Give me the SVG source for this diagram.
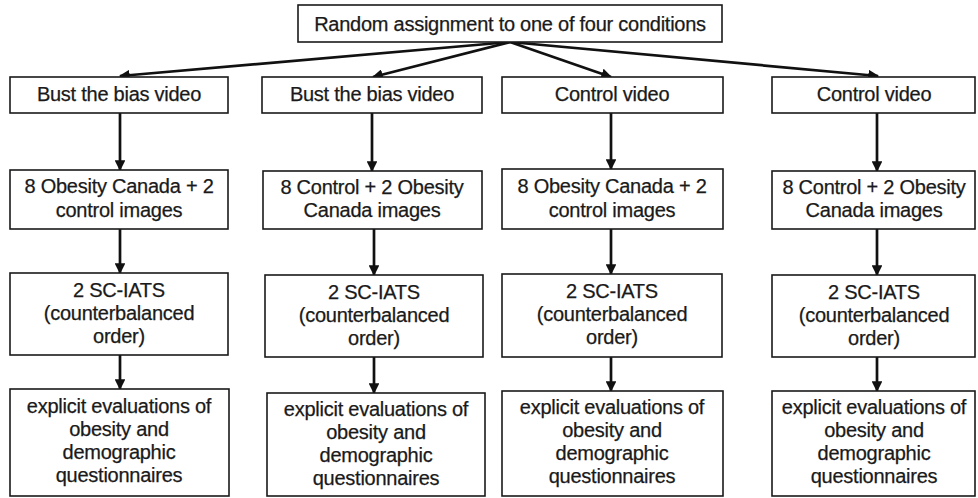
<svg xmlns="http://www.w3.org/2000/svg" width="978" height="498" viewBox="0 0 978 498">
<style>
.box{fill:#fff;stroke:#1a1a1a;stroke-width:1.6}
.t{font-family:"Liberation Sans",Arial,sans-serif;font-size:20px;fill:#1a1a1a;stroke:#1a1a1a;stroke-width:0.25;text-anchor:middle;letter-spacing:-0.25px}
.c{stroke:#111;stroke-width:2.7;fill:none;marker-end:url(#ah)}
</style>
<defs>
<marker id="ah" viewBox="0 0 10 10" refX="9" refY="5" markerWidth="4" markerHeight="4" orient="auto" markerUnits="strokeWidth">
<path d="M0,0 L10,5 L0,10 z" fill="#111"/>
</marker>
</defs>
<rect width="978" height="498" fill="#fff"/>
<g id="connectors">
<line class="c" x1="510" y1="42" x2="120" y2="76"/>
<line class="c" x1="510" y1="42" x2="373" y2="77"/>
<line class="c" x1="510" y1="42" x2="611" y2="77"/>
<line class="c" x1="510" y1="42" x2="878" y2="76"/>
<line class="c" x1="120" y1="113" x2="120" y2="170"/>
<line class="c" x1="372" y1="113" x2="372" y2="171"/>
<line class="c" x1="611" y1="113" x2="611" y2="169"/>
<line class="c" x1="877" y1="113" x2="877" y2="171"/>
<line class="c" x1="120" y1="229" x2="120" y2="273"/>
<line class="c" x1="374" y1="229" x2="374" y2="275"/>
<line class="c" x1="611" y1="229" x2="611" y2="274"/>
<line class="c" x1="877" y1="229" x2="877" y2="275"/>
<line class="c" x1="120" y1="355" x2="120" y2="389"/>
<line class="c" x1="374" y1="357" x2="374" y2="393"/>
<line class="c" x1="611" y1="357" x2="611" y2="391"/>
<line class="c" x1="877" y1="357" x2="877" y2="391"/>
</g>
<g id="top">
<rect class="box" x="298" y="5" width="424" height="37"/>
<text class="t" x="510" y="31">Random assignment to one of four conditions</text>
</g>
<g id="v1"><rect class="box" x="10" y="77" width="218" height="36"/><text class="t" x="119" y="101">Bust the bias video</text></g>
<g id="v2"><rect class="box" x="262" y="77" width="220" height="36"/><text class="t" x="372" y="101">Bust the bias video</text></g>
<g id="v3"><rect class="box" x="502" y="77" width="221" height="36"/><text class="t" x="612" y="101">Control video</text></g>
<g id="v4"><rect class="box" x="772" y="77" width="203" height="36"/><text class="t" x="874" y="101">Control video</text></g>
<g id="i1"><rect class="box" x="10" y="170" width="218" height="59"/><text class="t" x="119" y="193">8 Obesity Canada + 2</text><text class="t" x="119" y="217">control images</text></g>
<g id="i2"><rect class="box" x="263" y="171" width="219" height="58"/><text class="t" x="372" y="194">8 Control + 2 Obesity</text><text class="t" x="372" y="217">Canada images</text></g>
<g id="i3"><rect class="box" x="502" y="169" width="221" height="60"/><text class="t" x="612" y="193">8 Obesity Canada + 2</text><text class="t" x="612" y="217">control images</text></g>
<g id="i4"><rect class="box" x="772" y="171" width="203" height="58"/><text class="t" x="874" y="194">8 Control + 2 Obesity</text><text class="t" x="874" y="217">Canada images</text></g>
<g id="s1"><rect class="box" x="10" y="273" width="218" height="82"/><text class="t" x="119" y="297">2 SC-IATS</text><text class="t" x="119" y="320">(counterbalanced</text><text class="t" x="119" y="343">order)</text></g>
<g id="s2"><rect class="box" x="265" y="275" width="218" height="82"/><text class="t" x="374" y="299">2 SC-IATS</text><text class="t" x="374" y="322">(counterbalanced</text><text class="t" x="374" y="345">order)</text></g>
<g id="s3"><rect class="box" x="502" y="274" width="220" height="83"/><text class="t" x="612" y="298">2 SC-IATS</text><text class="t" x="612" y="321">(counterbalanced</text><text class="t" x="612" y="344">order)</text></g>
<g id="s4"><rect class="box" x="772" y="275" width="203" height="82"/><text class="t" x="874" y="299">2 SC-IATS</text><text class="t" x="874" y="322">(counterbalanced</text><text class="t" x="874" y="345">order)</text></g>
<g id="e1"><rect class="box" x="10" y="389" width="219" height="107"/><text class="t" x="119" y="413">explicit evaluations of</text><text class="t" x="119" y="436">obesity and</text><text class="t" x="119" y="459">demographic</text><text class="t" x="119" y="482">questionnaires</text></g>
<g id="e2"><rect class="box" x="267" y="393" width="218" height="103"/><text class="t" x="376" y="416">explicit evaluations of</text><text class="t" x="376" y="439">obesity and</text><text class="t" x="376" y="462">demographic</text><text class="t" x="376" y="485">questionnaires</text></g>
<g id="e3"><rect class="box" x="502" y="391" width="221" height="105"/><text class="t" x="612" y="414">explicit evaluations of</text><text class="t" x="612" y="437">obesity and</text><text class="t" x="612" y="460">demographic</text><text class="t" x="612" y="483">questionnaires</text></g>
<g id="e4"><rect class="box" x="772" y="391" width="203" height="105"/><text class="t" x="874" y="414">explicit evaluations of</text><text class="t" x="874" y="437">obesity and</text><text class="t" x="874" y="460">demographic</text><text class="t" x="874" y="483">questionnaires</text></g>
</svg>
